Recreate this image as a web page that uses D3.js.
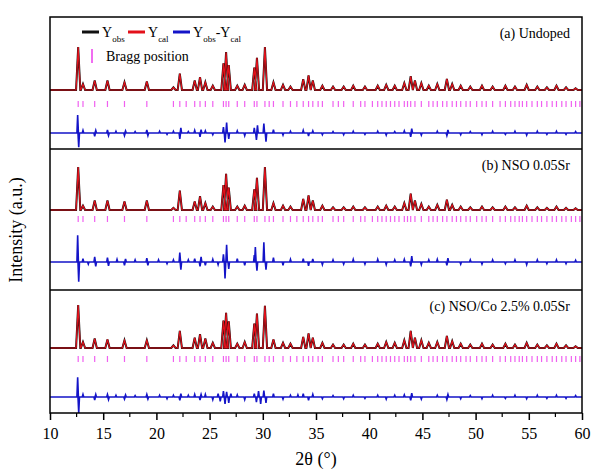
<!DOCTYPE html>
<html>
<head>
<meta charset="utf-8">
<script src="https://cdn.jsdelivr.net/npm/d3@7"></script>
<style>
  body { margin: 0; background: #fff; }
  text { font-family: "Liberation Serif", "Times New Roman", serif; }
</style>
</head>
<body>
<script>
// peak positions (2theta, deg) shared by the three refinements
const peakPos = [12.65, 13.1, 14.2, 15.4, 17.0, 19.1, 21.6, 22.2, 23.6, 24.1, 24.6, 25.3,
  26.3, 26.55, 26.8, 27.6, 28.3, 29.2, 29.45, 30.2, 31.0, 31.9, 32.6, 33.8, 34.3, 34.7,
  35.6, 36.6, 37.6, 38.5, 39.6, 40.8, 41.6, 42.4, 43.3, 43.9, 44.3, 44.9, 45.6, 46.4,
  47.3, 47.8, 48.6, 49.5, 50.6, 51.6, 52.8, 53.7, 54.8, 55.8, 56.7, 57.6, 58.5, 59.4];

// calculated intensities (relative, %), one list per sample
const calcA = [100, 14, 22, 22, 18, 20, 6, 38, 22, 30, 18, 10, 62, 88, 58, 10, 12, 52, 75, 100,
  18, 12, 8, 25, 34, 22, 10, 8, 8, 10, 8, 10, 12, 10, 16, 32, 22, 16, 10, 14,
  26, 14, 10, 8, 10, 8, 10, 8, 12, 8, 6, 10, 6, 4];
const calcB = [100, 10, 22, 22, 20, 22, 5, 45, 20, 32, 16, 8, 58, 84, 52, 8, 10, 48, 75, 100,
  16, 10, 8, 26, 34, 22, 10, 6, 6, 8, 6, 8, 10, 8, 16, 38, 22, 14, 8, 12,
  24, 12, 8, 6, 8, 6, 8, 6, 10, 6, 5, 8, 5, 4];
const calcC = [100, 14, 22, 20, 18, 18, 6, 40, 24, 32, 22, 12, 64, 82, 62, 10, 14, 57, 80, 98,
  20, 12, 10, 26, 34, 24, 12, 8, 8, 10, 8, 10, 14, 12, 18, 40, 24, 18, 12, 14,
  28, 16, 10, 8, 10, 8, 10, 8, 12, 8, 6, 10, 6, 4];

// Yobs - Ycal, [2theta, relative intensity]
const diffA = [[12.6, 42], [12.7, -33], [13.1, 6], [14.2, -8], [14.3, 6], [15.4, 7], [15.5, -6],
  [16.2, 4], [17.0, -6], [17.1, 5], [18.0, 3], [19.1, 7], [19.2, -6], [20.3, 4], [21.0, -3],
  [21.6, 4], [22.2, -14], [22.3, 12], [23.0, 3], [23.6, 6], [24.1, -9], [24.2, 8], [24.6, 5],
  [25.3, -4], [26.3, 14], [26.45, -22], [26.6, 24], [26.8, -14], [27.6, 5], [28.3, -6],
  [29.2, 12], [29.4, -16], [29.5, 18], [30.1, 22], [30.3, -20], [31.0, 8], [31.9, -5],
  [32.6, 4], [33.8, 6], [34.3, -7], [34.7, 5], [35.6, -4], [36.6, 3], [37.6, -4], [38.5, 4],
  [39.6, -3], [40.8, 4], [41.6, -5], [42.4, 3], [43.3, 5], [43.9, -9], [44.0, 10], [44.9, -5],
  [46.4, 4], [47.3, -6], [47.4, 7], [48.6, -4], [49.5, 3], [50.6, -4], [51.6, 4], [52.8, -3],
  [53.7, 4], [54.8, -5], [55.8, 4], [56.7, -3], [57.6, 4], [58.5, -3], [59.4, 3]];
const diffB = [[12.6, 62], [12.7, -46], [13.1, 8], [13.6, -5], [14.2, 12], [14.3, -10], [15.4, 10],
  [15.5, -9], [16.3, 6], [17.0, -8], [17.1, 7], [18.0, 5], [19.1, 9], [19.2, -8], [20.2, 5],
  [21.0, -4], [21.6, 5], [22.2, 22], [22.3, -18], [23.0, 5], [23.6, 8], [24.1, -10], [24.2, 12],
  [24.6, -8], [25.3, 6], [25.8, -6], [26.3, 18], [26.45, -38], [26.6, 40], [26.8, -16],
  [27.6, 8], [28.3, -8], [29.2, 16], [29.3, 35], [29.45, -20], [30.1, 46], [30.3, -18],
  [31.0, 10], [31.9, -8], [32.6, 6], [33.8, 8], [34.3, -9], [34.7, 7], [35.6, -6], [36.6, 5],
  [37.6, -5], [38.5, 6], [39.6, -5], [40.8, 6], [41.6, -6], [42.4, 5], [43.3, 6], [43.9, -10],
  [44.0, 14], [44.9, -6], [45.6, 5], [46.4, 6], [47.3, -8], [47.4, 9], [48.6, -5], [49.5, 5],
  [50.6, -5], [51.6, 5], [52.8, -4], [53.7, 5], [54.8, -6], [55.8, 5], [56.7, -4], [57.6, 5],
  [58.5, -4], [59.4, 4]];
const diffC = [[12.6, 46], [12.7, -37], [13.1, 6], [14.2, -7], [14.3, 6], [15.4, 6], [15.5, -6],
  [16.2, 4], [17.0, -5], [17.1, 5], [18.0, 3], [19.1, 6], [19.2, -5], [20.3, 4], [21.0, -4],
  [21.6, 4], [22.2, -8], [22.3, 8], [23.0, 4], [23.6, 6], [24.1, -7], [24.2, 6], [24.6, 6],
  [25.3, -6], [25.8, 8], [26.0, -10], [26.3, 14], [26.45, -16], [26.6, 12], [26.8, -14],
  [27.0, 8], [27.6, 5], [28.3, -6], [29.2, 8], [29.4, -12], [29.6, 14], [29.8, -16],
  [30.1, 15], [30.3, -14], [31.0, 8], [31.9, -5], [32.6, 4], [33.3, 5], [33.8, 8], [34.3, -8],
  [34.7, 6], [35.6, -4], [36.6, 3], [37.6, -4], [38.5, 4], [39.6, -3], [40.8, 4], [41.6, -5],
  [42.4, 4], [43.3, 5], [43.9, -8], [44.0, 9], [44.9, -5], [46.4, 4], [47.3, -6], [47.4, 6],
  [48.6, -4], [49.5, 3], [50.6, -4], [51.6, 4], [52.8, -3], [53.7, 4], [54.8, -4], [55.8, 4],
  [56.7, -3], [57.6, 4], [58.5, -3], [59.4, 3]];

// Bragg reflection positions
const braggPos = [12.65, 13.1, 14.2, 15.4, 17.0, 19.1, 21.6, 22.2, 22.8, 23.6, 24.1, 24.6,
  25.3, 26.3, 26.55, 26.8, 27.6, 28.3, 29.2, 29.45, 30.2, 30.6, 31.0, 31.9, 32.6, 33.2, 33.8,
  34.3, 34.7, 35.2, 35.6, 36.6, 37.1, 37.6, 38.5, 39.2, 39.6, 40.3, 40.8, 41.2, 41.6, 42.0,
  42.4, 42.8, 43.3, 43.6, 43.9, 44.3, 44.9, 45.6, 46.0, 46.4, 46.9, 47.3, 47.8, 48.2, 48.6,
  49.1, 49.5, 50.1, 50.6, 51.0, 51.6, 52.3, 52.8, 53.3, 53.7, 54.1, 54.4, 54.8, 55.3, 55.8,
  56.2, 56.7, 57.2, 57.6, 58.1, 58.5, 59.0, 59.4, 59.8];

const xTicks = [10, 15, 20, 25, 30, 35, 40, 45, 50, 55, 60];
const sampleNames = ["(a) Undoped", "(b) NSO 0.05Sr", "(c) NSO/Co 2.5% 0.05Sr"];

const W = 594, H = 475;
const plotL = 50, plotR = 582, plotT = 17, plotB = 413;

// vertical placement of each panel: borders, calc baseline, Bragg row, diff baseline
const panels = [
  { y0: 17, y1: 149, base: 90, bragg: 101, diff: 133, calc: calcA, dif: diffA },
  { y0: 149, y1: 290, base: 210, bragg: 216, diff: 262, calc: calcB, dif: diffB },
  { y0: 290, y1: 413, base: 348, bragg: 356, diff: 397, calc: calcC, dif: diffC }
];

const svg = d3.select("body").append("svg")
  .attr("width", W)
  .attr("height", H);

const x = d3.scaleLinear().domain([10, 60]).range([plotL, plotR]);
const yI = d3.scaleLinear().domain([0, 100]).range([0, 43]);

const halfW = 0.2;

// turn peak list into a stick profile on a flat baseline
function profile(pos, h, w) {
  const pts = [[10, 0]];
  pos.forEach((p, i) => {
    pts.push([p - w, 0], [p, h[i]], [p + w, 0]);
  });
  pts.push([60, 0]);
  return pts;
}

function diffProfile(list) {
  const pts = [[10, 0]];
  list.forEach(d => pts.push([d[0] - 0.07, 0], [d[0], d[1]], [d[0] + 0.07, 0]));
  pts.push([60, 0]);
  return pts;
}

svg.append("clipPath").attr("id", "plotClip")
  .append("rect")
  .attr("x", plotL).attr("y", plotT)
  .attr("width", plotR - plotL).attr("height", plotB - plotT);

const plot = svg.append("g").attr("clip-path", "url(#plotClip)");

panels.forEach((pn, k) => {
  const line = d3.line()
    .x(d => x(d[0]))
    .y(d => pn.base - yI(d[1]));
  const dline = d3.line()
    .x(d => x(d[0]))
    .y(d => pn.diff - yI(d[1]));

  // observed pattern sits under the fit, so it shows as a dark edge
  plot.append("path")
    .attr("d", line(profile(peakPos, pn.calc, halfW)))
    .attr("fill", "none")
    .attr("stroke", "#111")
    .attr("stroke-width", 2);

  plot.append("path")
    .attr("d", line(profile(peakPos, pn.calc, halfW)))
    .attr("fill", "none")
    .attr("stroke", "#e3101a")
    .attr("stroke-width", 1.2);

  plot.selectAll(null)
    .data(braggPos)
    .enter().append("line")
    .attr("x1", d => x(d)).attr("x2", d => x(d))
    .attr("y1", pn.bragg).attr("y2", pn.bragg + 6)
    .attr("stroke", "#f060f0")
    .attr("stroke-width", 1.2);

  plot.append("path")
    .attr("d", dline(diffProfile(pn.dif)))
    .attr("fill", "none")
    .attr("stroke", "#1414c8")
    .attr("stroke-width", 1.6);

  svg.append("text")
    .attr("x", 570)
    .attr("y", pn.y0 + 21)
    .attr("text-anchor", "end")
    .attr("font-size", 14)
    .text(sampleNames[k]);
});

// frame and panel separators
svg.append("rect")
  .attr("x", plotL).attr("y", plotT)
  .attr("width", plotR - plotL).attr("height", plotB - plotT)
  .attr("fill", "none")
  .attr("stroke", "#000")
  .attr("stroke-width", 1.5);

panels.slice(1).forEach(pn => {
  svg.append("line")
    .attr("x1", plotL).attr("x2", plotR)
    .attr("y1", pn.y0).attr("y2", pn.y0)
    .attr("stroke", "#000")
    .attr("stroke-width", 1.5);
});

// x axis
const xAxis = d3.axisBottom(x)
  .tickValues(xTicks)
  .tickSize(7)
  .tickFormat(d3.format("d"));

const ax = svg.append("g")
  .attr("transform", `translate(0,${plotB})`)
  .call(xAxis);
ax.select(".domain").remove();
ax.selectAll("line").attr("stroke-width", 1.5);
ax.selectAll("text")
  .attr("font-family", "Liberation Serif, serif")
  .attr("font-size", 16)
  .attr("dy", "1em");

const minor = d3.range(12.5, 60, 5);
svg.append("g")
  .selectAll("line")
  .data(minor)
  .enter().append("line")
  .attr("x1", d => x(d)).attr("x2", d => x(d))
  .attr("y1", plotB).attr("y2", plotB + 4)
  .attr("stroke", "#000")
  .attr("stroke-width", 1.2);

svg.append("text")
  .attr("x", (plotL + plotR) / 2)
  .attr("y", 465)
  .attr("text-anchor", "middle")
  .attr("font-size", 18)
  .text("2θ (°)");

svg.append("text")
  .attr("transform", "translate(22,230) rotate(-90)")
  .attr("text-anchor", "middle")
  .attr("font-size", 18)
  .text("Intensity (a.u.)");

// legend
const legend = svg.append("g");
const items = [
  { x: 82, color: "#111", parts: [["Y", ""], ["obs", "sub"]] },
  { x: 128, color: "#e3101a", parts: [["Y", ""], ["cal", "sub"]] },
  { x: 173, color: "#1414c8", parts: [["Y", ""], ["obs", "sub"], ["-Y", ""], ["cal", "sub"]] }
];
items.forEach(it => {
  legend.append("line")
    .attr("x1", it.x).attr("x2", it.x + 17)
    .attr("y1", 32).attr("y2", 32)
    .attr("stroke", it.color)
    .attr("stroke-width", 3);
  const t = legend.append("text")
    .attr("x", it.x + 20)
    .attr("y", 37)
    .attr("font-size", 14);
  it.parts.forEach(p => {
    t.append("tspan")
      .attr("font-size", p[1] ? 9 : 14)
      .attr("baseline-shift", p[1] ? "sub" : null)
      .text(p[0]);
  });
});

legend.append("line")
  .attr("x1", 92).attr("x2", 92)
  .attr("y1", 49).attr("y2", 63)
  .attr("stroke", "#ec3cec")
  .attr("stroke-width", 1.5);
legend.append("text")
  .attr("x", 106)
  .attr("y", 61)
  .attr("font-size", 14)
  .text("Bragg position");
</script>
</body>
</html>
